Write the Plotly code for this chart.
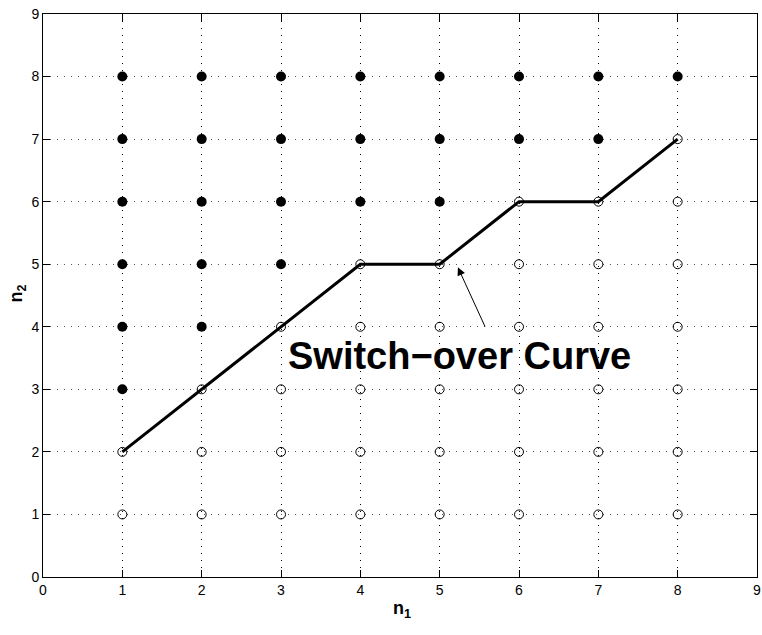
import plotly.graph_objects as go

# Data
n1_values = [1, 2, 3, 4, 5, 6, 7, 8]
curve_n2 = [2, 3, 4, 5, 5, 6, 6, 7]   # switch-over curve
n2_max = 8
x_ticks = [0, 1, 2, 3, 4, 5, 6, 7, 8, 9]
y_ticks = [0, 1, 2, 3, 4, 5, 6, 7, 8, 9]
label_text = "Switch\u2212over Curve"
arrow_head = (5.23, 4.95)
arrow_tail = (5.58, 3.98)
label_pos = (5.255, 3.53)

open_x, open_y, fill_x, fill_y = [], [], [], []
for n1, c in zip(n1_values, curve_n2):
    for n2 in range(1, n2_max + 1):
        if n2 <= c:
            open_x.append(n1); open_y.append(n2)
        else:
            fill_x.append(n1); fill_y.append(n2)

fig = go.Figure()
fig.add_trace(go.Scatter(x=open_x, y=open_y, mode="markers",
                         marker=dict(symbol="circle-open", size=9, color="black",
                                     line=dict(width=1, color="black")),
                         showlegend=False, hoverinfo="skip"))
fig.add_trace(go.Scatter(x=fill_x, y=fill_y, mode="markers",
                         marker=dict(symbol="circle", size=10, color="black"),
                         showlegend=False, hoverinfo="skip"))
fig.add_trace(go.Scatter(x=n1_values, y=curve_n2, mode="lines",
                         line=dict(color="black", width=3),
                         showlegend=False, hoverinfo="skip"))

axis_common = dict(
    showline=True, linecolor="black", linewidth=1, mirror="ticks",
    ticks="inside", ticklen=7, tickcolor="black", tickwidth=1,
    showgrid=True, griddash="1px,6px", gridwidth=1, automargin=False,
    zeroline=False, tickfont=dict(family="Liberation Sans, Arial", size=14, color="black"),
    range=[0, 9],
)
fig.update_xaxes(tickvals=x_ticks, ticktext=[str(t) for t in x_ticks],
                 gridcolor="black", **axis_common)
fig.update_yaxes(tickvals=y_ticks, ticktext=[str(t) for t in y_ticks],
                 gridcolor="#555555", **axis_common)

fig.add_annotation(x=arrow_head[0], y=arrow_head[1], ax=arrow_tail[0], ay=arrow_tail[1],
                   axref="x", ayref="y", xref="x", yref="y", text="",
                   showarrow=True, arrowhead=2, arrowsize=1.6, arrowwidth=1, arrowcolor="black")
fig.add_annotation(x=label_pos[0], y=label_pos[1], xref="x", yref="y",
                   text="<b>" + label_text + "</b>", showarrow=False,
                   font=dict(family="Liberation Sans, Arial", size=38, color="black"),
                   xanchor="center", yanchor="middle")
fig.add_annotation(x=0.503, y=-0.034, xref="paper", yref="paper",
                   text="<b>n</b><sub><b>1</b></sub>", showarrow=False,
                   font=dict(family="Liberation Sans, Arial", size=18, color="black"),
                   xanchor="center", yanchor="top")
fig.add_annotation(x=-0.036, y=0.504, xref="paper", yref="paper",
                   text="<b>n</b><sub><b>2</b></sub>", showarrow=False, textangle=-90,
                   font=dict(family="Liberation Sans, Arial", size=18, color="black"),
                   xanchor="center", yanchor="middle")

fig.update_layout(width=762, height=635,
                  margin=dict(l=43, r=5, t=14, b=58),
                  paper_bgcolor="white", plot_bgcolor="white",
                  showlegend=False)

fig.write_html("out.html")
